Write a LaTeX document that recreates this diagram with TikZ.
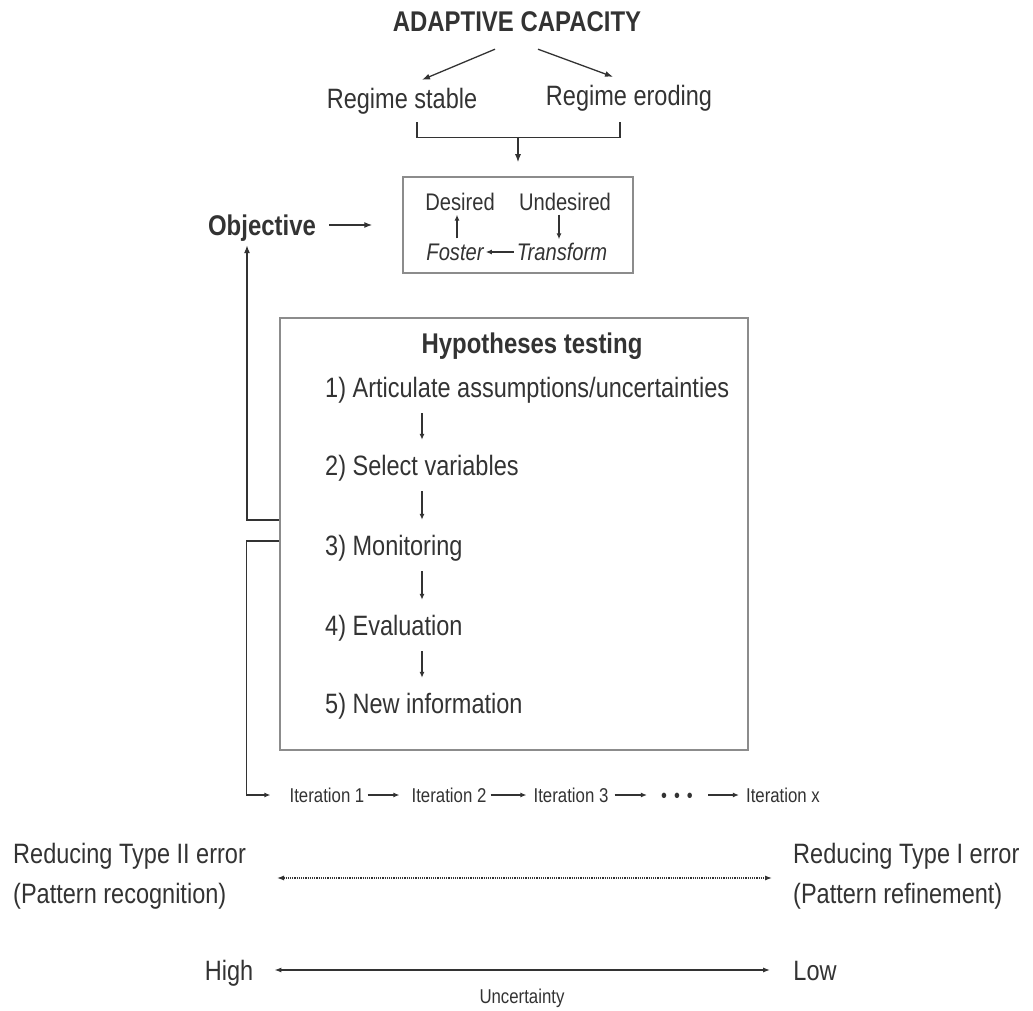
\documentclass[tikz,border=0pt]{standalone}
\usepackage{fontspec}
\setmainfont{Liberation Sans}[FakeStretch=0.84]
\usetikzlibrary{arrows.meta}
\definecolor{ink}{HTML}{333333}
\definecolor{frame}{HTML}{8C8C8C}
\tikzset{
  txt/.style={inner sep=0pt, text=ink, font=\fontsize{28}{32}\selectfont, text height=20pt, text depth=0pt},
  hdr/.style={txt, font=\fontsize{28.5}{32}\selectfont\bfseries},
  boxtxt/.style={txt, font=\fontsize{24}{28}\selectfont, text height=17pt},
  itertxt/.style={txt, font=\fontsize{20}{24}\selectfont, text height=14pt},
  frm/.style={draw=frame, line width=1.5pt},
  arr/.style={draw=ink, line width=1.3pt, -{Latex[length=8pt,width=6pt]}},
  sarr/.style={draw=ink, line width=1.2pt, -{Latex[length=6pt,width=5pt]}}
}
\begin{document}
\begin{tikzpicture}[x=1pt,y=-1pt]
\useasboundingbox (0,0) rectangle (1033,1011);

%capacité d'adaptation

\node[hdr] (cap) at (517,22) {ADAPTIVE CAPACITY};
\node[txt] (stable) at (402,99) {Regime stable};
\node[txt] (eroding) at (629,96) {Regime eroding};
\draw[arr] ([xshift=-22pt,yshift=-17pt]cap.south) -- ([xshift=20pt,yshift=9pt]stable.north);
\draw[arr] ([xshift=21pt,yshift=-17pt]cap.south) -- ([xshift=-16pt,yshift=9pt]eroding.north);
\draw[draw=ink, line width=1.3pt] ([xshift=15pt,yshift=-13pt]stable.south) -- ++(0,15) -| ([xshift=-9pt,yshift=-16pt]eroding.south);
\coordinate (join) at (518,137);

%objectif

\node[frm, minimum width=230pt, minimum height=96pt] (goal) at (518,225) {};
\draw[arr, shorten >=14pt] (join) -- (goal.north);
\node[boxtxt] (desired) at (460,202) {Desired};
\node[boxtxt] (undesired) at (565,202) {Undesired};
\node[boxtxt, font=\fontsize{24}{28}\selectfont\itshape] (foster) at (455,252) {Foster};
\node[boxtxt, font=\fontsize{24}{28}\selectfont\itshape] (transform) at (562,252) {Transform};
\draw[sarr, shorten <=5pt, shorten >=4pt] ([xshift=2pt]foster.north) -- ([xshift=2pt]foster.north |- desired.south);
\draw[sarr, shorten <=4pt, shorten >=4pt] ([xshift=-6pt]undesired.south) -- ([xshift=-6pt]undesired.south |- transform.north);
\draw[sarr, shorten <=3pt, shorten >=2pt] (transform.west) -- (foster.east);
\node[hdr] (obj) at (262,225) {Objective};
\draw[arr, shorten <=13pt, shorten >=30pt] (obj.east) -- (goal.west);

%tests d'hypothèses

\node[frm, minimum width=468pt, minimum height=432pt] (hyp) at (514,534) {};
\node[hdr] (title) at (532,343) {Hypotheses testing};
\node[txt, anchor=west] (s1) at (325,387) {1) Articulate assumptions/uncertainties};
\node[txt, anchor=west] (s2) at (325,465) {2) Select variables};
\node[txt, anchor=west] (s3) at (325,545) {3) Monitoring};
\node[txt, anchor=west] (s4) at (325,625) {4) Evaluation};
\node[txt, anchor=west] (s5) at (325,703) {5) New information};
\coordinate (ax) at (422,0);
\foreach \a/\b in {s1/s2,s2/s3,s3/s4,s4/s5}
  \draw[sarr, shorten <=16pt, shorten >=15pt] (\a.south -| ax) -- (\b.north -| ax);
\draw[arr] ([yshift=14pt]hyp.west) -| ([xshift=-15pt,yshift=-10pt]obj.south);

%itérations

\node[itertxt] (it1) at (327,795) {Iteration 1};
\node[itertxt] (it2) at (449,795) {Iteration 2};
\node[itertxt] (it3) at (571,795) {Iteration 3};
\node[itertxt] (dots) at (677,795) {•\hspace{7pt}•\hspace{7pt}•};
\node[itertxt] (itx) at (783,795) {Iteration x};
\draw[sarr, shorten >=19pt] ([yshift=-7pt]hyp.west) -- ++(-33,0) |- (it1.west);
\draw[sarr, shorten <=3pt, shorten >=12pt] (it1.east) -- (it2.west);
\draw[sarr, shorten <=4pt, shorten >=7pt] (it2.east) -- (it3.west);
\draw[sarr, shorten <=6pt, shorten >=14pt] (it3.east) -- (dots.west);
\draw[sarr, shorten <=15pt, shorten >=7pt] (dots.east) -- (itx.west);

%erreurs et incertitude

\node[txt, anchor=west] (t2a) at (13,853) {Reducing Type II error};
\node[txt, anchor=west] (t2b) at (13,893) {(Pattern recognition)};
\node[txt, anchor=west] (t1a) at (793,853) {Reducing Type I error};
\node[txt, anchor=west] (t1b) at (793,893) {(Pattern refinement)};
\coordinate (recog) at (277,878);
\coordinate (refine) at (772,878);
\draw[draw=ink, line width=1.2pt, densely dotted, {Latex[length=7pt,width=5pt]}-{Latex[length=7pt,width=5pt]}] (recog) -- (refine);
\node[txt] (high) at (229,970) {High};
\node[txt] (low) at (815,970) {Low};
\draw[draw=ink, line width=1.5pt, {Latex[length=7pt,width=5pt]}-{Latex[length=7pt,width=5pt]}, shorten <=21pt, shorten >=23pt] (high.east) -- (low.west);
\node[itertxt] (unc) at (522,996) {Uncertainty};
\end{tikzpicture}
\end{document}
